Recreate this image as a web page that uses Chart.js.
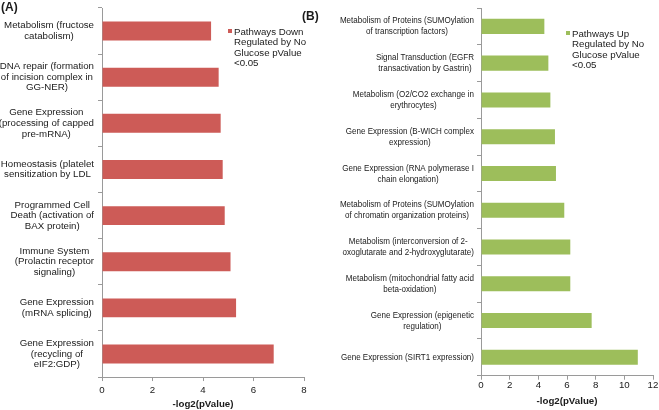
<!DOCTYPE html>
<html>
<head>
<meta charset="utf-8">
<script src="https://cdn.jsdelivr.net/npm/chart.js@4"></script>
<style>
  body { margin: 0; background: #fff; width: 659px; height: 410px; position: relative; overflow: hidden;
         font-family: 'Liberation Sans', Arial, sans-serif; color: #1a1a1a; }
  canvas { position: absolute; top: 0; }
  #chartA { left: 0; }
  #chartB { left: 330px; }
  .tag { position: absolute; font-weight: bold; font-size: 12px; line-height: 14px; }
  .legend { position: absolute; font-size: 9.7px; white-space: nowrap; }
  .legend i { position: absolute; left: -6px; top: 2px; width: 4px; height: 4px; }
</style>
</head>
<body>
<canvas id="chartA" width="330" height="410"></canvas>
<canvas id="chartB" width="329" height="410"></canvas>
<div class="tag" style="left:1px; top:0px;">(A)</div>
<div class="tag" style="left:302px; top:9px;">(B)</div>
<div class="legend" style="left:234px; top:27.2px; line-height:10.2px;"><i style="background:#CD5B57"></i>Pathways Down<br>Regulated by No<br>Glucose pValue<br>&lt;0.05</div>
<div class="legend" style="left:572px; top:28.7px; line-height:10.6px;"><i style="background:#9DBE5B"></i>Pathways Up<br>Regulated by No<br>Glucose pValue<br>&lt;0.05</div>
<script>
const downLabels = [
    ['Metabolism (fructose', 'catabolism)'],
    ['DNA repair (formation', 'of incision complex in', 'GG-NER)'],
    ['Gene Expression', '(processing of capped', 'pre-mRNA)'],
    ['Homeostasis (platelet', 'sensitization by LDL'],
    ['Programmed Cell', 'Death (activation of', 'BAX protein)'],
    ['Immune System', '(Prolactin receptor', 'signaling)'],
    ['Gene Expression', '(mRNA splicing)'],
    ['Gene Expression', '(recycling of', 'eIF2:GDP)']
];
const downValues = [4.32, 4.62, 4.70, 4.78, 4.86, 5.09, 5.31, 6.80];

const upLabels = [
    ['Metabolism of Proteins (SUMOylation', 'of transcription factors)'],
    ['Signal Transduction (EGFR', 'transactivation by Gastrin)'],
    ['Metabolism (O2/CO2 exchange in', 'erythrocytes)'],
    ['Gene Expression (B-WICH complex', 'expression)'],
    ['Gene Expression (RNA polymerase I', 'chain elongation)'],
    ['Metabolism of Proteins (SUMOylation', 'of chromatin organization proteins)'],
    ['Metabolism (interconversion of 2-', 'oxoglutarate and 2-hydroxyglutarate)'],
    ['Metabolism (mitochondrial fatty acid', 'beta-oxidation)'],
    ['Gene Expression (epigenetic', 'regulation)'],
    ['Gene Expression (SIRT1 expression)']
];
const upValues = [4.42, 4.70, 4.84, 5.16, 5.23, 5.81, 6.23, 6.23, 7.72, 10.94];

const downMax = 8;
const upMax = 12;
const tickStep = 2;
const xTitle = '-log2(pValue)';

const FONT = "'Liberation Sans', Arial, sans-serif";
const TEXT = '#1a1a1a';
const AXIS = '#9a9a9a';
Chart.defaults.font.family = FONT;
Chart.defaults.color = TEXT;

// category labels: each block right-aligned to the axis, its lines centred
const blockLabels = {
    id: 'blockLabels',
    afterDraw(chart, args, opts) {
        const scale = chart.scales.y;
        const ctx = chart.ctx;
        const sx = opts.sx || 1;
        ctx.save();
        ctx.font = opts.size + 'px ' + FONT;
        ctx.fillStyle = TEXT;
        ctx.textAlign = 'center';
        ctx.textBaseline = 'middle';
        chart.data.labels.forEach((lines, i) => {
            const y = scale.getPixelForTick(i);
            const w = Math.max(...lines.map(l => ctx.measureText(l).width)) * sx;
            const cx = scale.right - opts.gap - w / 2;
            const top = y - (lines.length - 1) * opts.lineHeight / 2;
            lines.forEach((l, k) => {
                ctx.save();
                ctx.translate(cx, top + k * opts.lineHeight);
                ctx.scale(sx, 1);
                ctx.fillText(l, 0, 0);
                ctx.restore();
            });
        });
        ctx.restore();
    }
};

function makeChart(id, labels, values, color, max, o) {
    return new Chart(document.getElementById(id), {
        type: 'bar',
        data: {
            labels: labels,
            datasets: [{ data: values, backgroundColor: color, categoryPercentage: 0.41, barPercentage: 1 }]
        },
        options: {
            indexAxis: 'y',
            responsive: false,
            animation: false,
            layout: { padding: { top: 8, right: o.right, bottom: o.bottom, left: 0 } },
            plugins: {
                legend: { display: false },
                tooltip: { enabled: false },
                blockLabels: o.labels
            },
            scales: {
                y: {
                    afterFit: s => { s.width = o.axisWidth; },
                    ticks: { display: false },
                    grid: { drawOnChartArea: false, tickLength: 4, tickColor: AXIS },
                    border: { color: AXIS }
                },
                x: {
                    min: 0,
                    max: max,
                    ticks: { stepSize: tickStep, padding: o.pad, color: TEXT, font: { size: 9.7 } },
                    grid: { drawOnChartArea: false, tickLength: 4, tickColor: AXIS },
                    border: { color: AXIS },
                    title: {
                        display: true, text: xTitle, color: TEXT,
                        font: { size: 9.7, weight: 'bold', lineHeight: 1 },
                        padding: { top: o.titleTop, bottom: 0 }
                    }
                }
            }
        },
        plugins: [blockLabels]
    });
}

makeChart('chartA', downLabels, downValues, '#CD5B57', downMax, {
    axisWidth: 102, right: 26, bottom: 1.2, pad: 3.2, titleTop: 0,
    labels: { gap: 8, size: 9.7, lineHeight: 10.6, sx: 1 }
});
makeChart('chartB', upLabels, upValues, '#9DBE5B', upMax, {
    axisWidth: 151, right: 6, bottom: 3.45, pad: 0.2, titleTop: 5.1,
    labels: { gap: 7, size: 9.3, lineHeight: 11, sx: 0.865 }
});
</script>
</body>
</html>
